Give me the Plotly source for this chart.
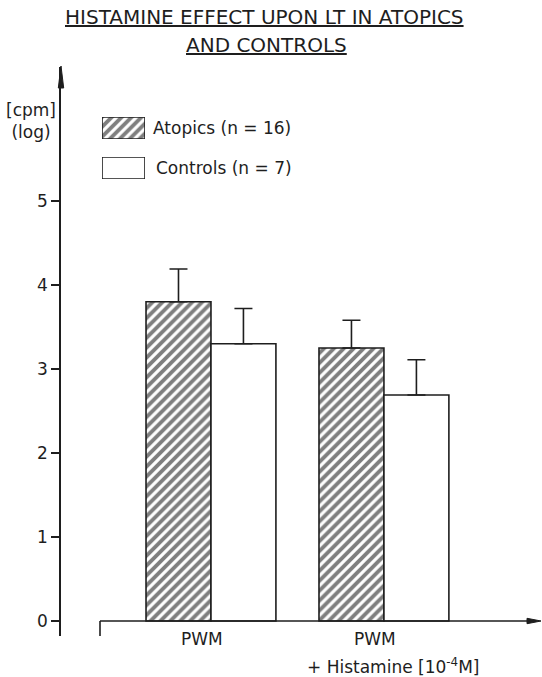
import plotly.graph_objects as go

# ---- data ----
categories = ["PWM", "PWM + Histamine"]
atopics = [3.80, 3.25]
atopics_err = [0.39, 0.33]
controls = [3.30, 2.69]
controls_err = [0.42, 0.42]
y_ticks = [0, 1, 2, 3, 4, 5]
atopics_name = "Atopics (n = 16)"
controls_name = "Controls (n = 7)"

W, H = 542, 677
L, R, T, B = 61, 1, 67, 41
PW, PH = W - L - R, H - T - B
INK = "#1e1e1e"
FONT = "DejaVu Sans"


def px(x):
    """picture x pixel -> paper fraction"""
    return (x - L) / PW


def py(y):
    """picture y pixel -> paper fraction"""
    return (H - B - y) / PH


hatch = dict(shape="/", size=7, solidity=0.55, fgcolor="#000000", bgcolor="white")

fig = go.Figure()
fig.add_trace(go.Bar(
    x=[0, 1], y=atopics, name=atopics_name,
    marker=dict(color="white", pattern=hatch, line=dict(color=INK, width=1.6)),
    error_y=dict(type="data", array=atopics_err, arrayminus=[0, 0], symmetric=False,
                 color=INK, thickness=1.6, width=9),
))
fig.add_trace(go.Bar(
    x=[0, 1], y=controls, name=controls_name,
    marker=dict(color="white", line=dict(color=INK, width=1.6)),
    error_y=dict(type="data", array=controls_err, arrayminus=[0, 0], symmetric=False,
                 color=INK, thickness=1.6, width=9),
))

# legend swatches (single bars on small hidden axes)
fig.add_trace(go.Bar(x=[0], y=[1], width=[1], xaxis="x2", yaxis="y2", showlegend=False,
                     marker=dict(color="white", pattern=hatch, line=dict(color=INK, width=1.6)),
                     hoverinfo="skip"))
fig.add_trace(go.Bar(x=[0], y=[1], width=[1], xaxis="x3", yaxis="y3", showlegend=False,
                     marker=dict(color="white", line=dict(color=INK, width=1.6)),
                     hoverinfo="skip"))

hidden = dict(visible=False, fixedrange=True)
fig.update_layout(
    width=W, height=H,
    margin=dict(l=L, r=R, t=T, b=B, pad=0, autoexpand=False),
    paper_bgcolor="white", plot_bgcolor="white",
    showlegend=False,
    barmode="group", bargap=0.249, bargroupgap=0,
    font=dict(family=FONT, color=INK, size=17),
    xaxis=dict(range=[-0.867, 1.908], showline=False, showgrid=False, zeroline=False,
               showticklabels=False, ticks=""),
    yaxis=dict(range=[-0.179, 6.595], showline=True, linecolor=INK, linewidth=1.6,
               showgrid=False, zeroline=False, ticks="outside", ticklen=8, tickwidth=1.5,
               tickcolor=INK, tickvals=y_ticks, ticktext=[str(v) for v in y_ticks],
               tickfont=dict(size=17, family=FONT, color=INK)),
    xaxis2=dict(hidden, domain=[px(102), px(145)], range=[-0.5, 0.5], anchor="y2"),
    yaxis2=dict(hidden, domain=[py(139), py(117)], range=[0, 1], anchor="x2"),
    xaxis3=dict(hidden, domain=[px(102), px(145)], range=[-0.5, 0.5], anchor="y3"),
    yaxis3=dict(hidden, domain=[py(179), py(157)], range=[0, 1], anchor="x3"),
)

# x axis line (starts right of the y axis) with a small end tick
fig.add_shape(type="line", xref="paper", yref="y", x0=px(100), x1=px(530), y0=0, y1=0,
              line=dict(color=INK, width=1.6))
fig.add_shape(type="line", xref="paper", yref="y", x0=px(100), x1=px(100), y0=0, y1=-0.179,
              line=dict(color=INK, width=1.6))

# arrowheads
fig.add_shape(type="path", xref="paper", yref="paper",
              path=f"M{px(61)},{py(66)} L{px(58.3)},{py(88)} L{px(63.7)},{py(88)} Z",
              fillcolor=INK, line=dict(color=INK, width=1))
fig.add_shape(type="path", xref="paper", yref="paper",
              path=f"M{px(541)},{py(621)} L{px(527)},{py(618.3)} L{px(527)},{py(623.7)} Z",
              fillcolor=INK, line=dict(color=INK, width=1))

# title
fig.add_annotation(xref="paper", yref="paper", x=px(264), y=py(17), xanchor="center",
                   yanchor="middle", showarrow=False,
                   text="<u>HISTAMINE EFFECT UPON LT IN ATOPICS</u>", font=dict(size=20))
fig.add_annotation(xref="paper", yref="paper", x=px(266), y=py(45), xanchor="center",
                   yanchor="middle", showarrow=False,
                   text="<u>AND CONTROLS</u>", font=dict(size=20))

# y axis unit label
fig.add_annotation(xref="paper", yref="paper", x=px(58), y=py(121), xanchor="right",
                   yanchor="middle", showarrow=False, align="center",
                   text="[cpm]<br>(log)", font=dict(size=17))

# legend texts
fig.add_annotation(xref="paper", yref="paper", x=px(151), y=py(128), xanchor="left",
                   yanchor="middle", showarrow=False, text=atopics_name, font=dict(size=17))
fig.add_annotation(xref="paper", yref="paper", x=px(154), y=py(168), xanchor="left",
                   yanchor="middle", showarrow=False, text=controls_name, font=dict(size=17))

# category labels
fig.add_annotation(xref="x", yref="paper", x=0, y=py(639), xshift=-9, xanchor="center",
                   yanchor="middle", showarrow=False, text="PWM", font=dict(size=17))
fig.add_annotation(xref="x", yref="paper", x=1, y=py(639), xshift=-9, xanchor="center",
                   yanchor="middle", showarrow=False, text="PWM", font=dict(size=17))
fig.add_annotation(xref="x", yref="paper", x=1, y=py(666), xshift=9, xanchor="center",
                   yanchor="middle", showarrow=False,
                   text="+ Histamine [10<sup>-4</sup>M]", font=dict(size=17))

# remove the page's default body margin so the figure fills the window exactly
fig.write_html("out.html", config={"displayModeBar": False},
               post_script="document.body.style.margin='0';")
